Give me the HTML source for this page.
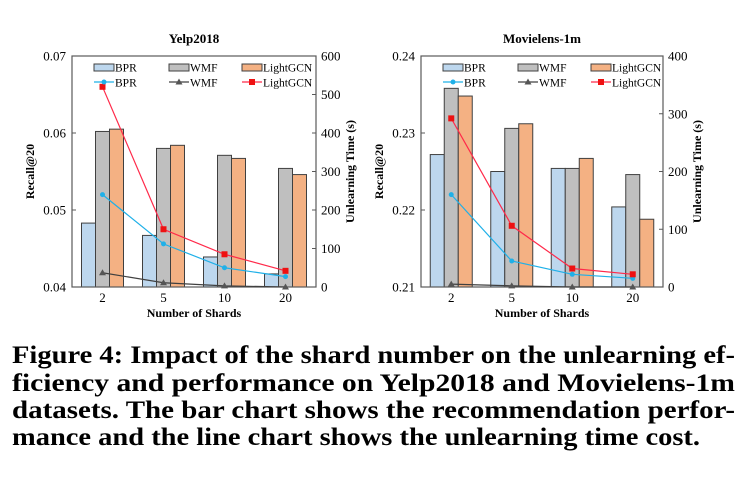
<!DOCTYPE html>
<html><head><meta charset="utf-8"><style>
body{margin:0;background:#fff;}
svg{display:block;font-family:"Liberation Serif",serif;}
</style></head><body>
<svg id="fig" width="752" height="485" viewBox="0 0 752 485" xmlns="http://www.w3.org/2000/svg">
<g id="c1"></g>
<g id="c2"></g>
<g font-weight="bold" font-size="25" fill="#000">
<text x="12" y="363" textLength="723" lengthAdjust="spacingAndGlyphs">Figure 4: Impact of the shard number on the unlearning ef-</text>
<text x="12" y="391" textLength="723" lengthAdjust="spacingAndGlyphs">ficiency and performance on Yelp2018 and Movielens-1m</text>
<text x="12" y="418" textLength="723" lengthAdjust="spacingAndGlyphs">datasets. The bar chart shows the recommendation perfor-</text>
<text x="12" y="445" textLength="688" lengthAdjust="spacingAndGlyphs">mance and the line chart shows the unlearning time cost.</text>
</g>
</svg>
<script>
const categories=["2","5","10","20"];
const yelpBPR=[0.0483,0.0467,0.0439,0.0417];
const yelpWMF=[0.0602,0.0580,0.0571,0.0554];
const yelpLGCN=[0.0605,0.0584,0.0567,0.0546];
const yelpTimeBPR=[240,112,50,27];
const yelpTimeWMF=[37,11,3,0];
const yelpTimeLGCN=[520,150,85,42];
const yelpLeftTicks=["0.04","0.05","0.06","0.07"];
const yelpRightTicks=["0","100","200","300","400","500","600"];
const mlBPR=[0.2272,0.2250,0.2254,0.2204];
const mlWMF=[0.2358,0.2306,0.2254,0.2246];
const mlLGCN=[0.2348,0.2312,0.2267,0.2188];
const mlTimeBPR=[160,45,22,15];
const mlTimeWMF=[5,2,0,0];
const mlTimeLGCN=[292,106,32,22];
const mlLeftTicks=["0.21","0.22","0.23","0.24"];
const mlRightTicks=["0","100","200","300","400"];
const NS="http://www.w3.org/2000/svg";
function mk(p,t,a){const e=document.createElementNS(NS,t);for(const k in a)e.setAttribute(k,a[k]);p.appendChild(e);return e;}
function draw(g,o){
  const L=o.x0,R=o.x1,T=56,B=287;
  const lmin=+o.lt[0],lmax=+o.lt[o.lt.length-1],rmax=+o.rt[o.rt.length-1];
  const yL=v=>B-(v-lmin)/(lmax-lmin)*(B-T);
  const yR=v=>B-v/rmax*(B-T);
  const band=(R-L)/categories.length;
  const xC=i=>L+band*(i+0.5);
  let t=mk(g,'text',{x:(L+R)/2,y:43,'text-anchor':'middle','font-weight':'bold','font-size':'13'});t.textContent=o.title;
  
  
  const bw=14;
  const ser=[[o.bpr,'#bdd7ee','bar-bpr'],[o.wmf,'#bfbfbf','bar-wmf'],[o.lgcn,'#f4b183','bar-lightgcn']];
  ser.forEach((s,si)=>{s[0].forEach((v,i)=>{
    const x=xC(i)-1.5*bw+si*bw;
    const r=mk(g,'rect',{x:x,y:yL(v),width:bw,height:B-yL(v),fill:s[1],stroke:'#404040','stroke-width':'1'});
    
    
  });});
  const ax=mk(g,'rect',{x:L,y:T,width:R-L,height:B-T,fill:'none',stroke:'#595959','stroke-width':'1.2'});
  
  
  o.lt.forEach(s=>{const y=yL(+s);mk(g,'line',{x1:L,x2:L+4,y1:y,y2:y,stroke:'#595959'});
    const e=mk(g,'text',{x:L-6,y:y+4.5,'text-anchor':'end','font-size':'13'});e.textContent=s;
    
    });
  o.rt.forEach(s=>{const y=yR(+s);mk(g,'line',{x1:R-4,x2:R,y1:y,y2:y,stroke:'#595959'});
    const e=mk(g,'text',{x:R+5,y:y+4.5,'font-size':'13'});e.textContent=s;
    
    });
  categories.forEach((c,i)=>{const e=mk(g,'text',{x:xC(i),y:302,'text-anchor':'middle','font-size':'13'});e.textContent=c;
    
    });
  let e=mk(g,'text',{x:(L+R)/2,y:317,'text-anchor':'middle','font-weight':'bold','font-size':'12'});e.textContent='Number of Shards';
  
  
  e=mk(g,'text',{transform:`translate(${L-38},${(T+B)/2}) rotate(-90)`,'text-anchor':'middle','font-weight':'bold','font-size':'12'});e.textContent='Recall@20';
  
  
  e=mk(g,'text',{transform:`translate(${R+o.rOff},${(T+B)/2}) rotate(-90)`,'text-anchor':'middle','font-weight':'bold','font-size':'12'});e.textContent='Unlearning Time (s)';
  
  
  const lines=[[o.tw,'#404040','tri','line-wmf'],[o.tb,'#1fb0e8','dot','line-bpr'],[o.tl,'#ff2a4a','sq','line-lightgcn']];
  lines.forEach(l=>{
    const pts=l[0].map((v,i)=>xC(i)+','+yR(v)).join(' ');
    const p=mk(g,'polyline',{points:pts,fill:'none',stroke:l[1],'stroke-width':'1.2'});
    
    
    l[0].forEach((v,i)=>marker(g,l[2],xC(i),yR(v)));
  });
  const lx=[L+22,L+97,L+170],names=['BPR','WMF','LightGCN'],fills=['#bdd7ee','#bfbfbf','#f4b183'];
  const lc=['#1fb0e8','#404040','#ff2a4a'],lm=['dot','tri','sq'];
  names.forEach((n,i)=>{
    const r=mk(g,'rect',{x:lx[i],y:64,width:20,height:7,fill:fills[i],stroke:'#404040'});
    
    
    let tx=mk(g,'text',{x:lx[i]+21,y:71.5,'font-size':'11.5'});tx.textContent=n;
    
    
    const ln=mk(g,'line',{x1:lx[i],x2:lx[i]+20,y1:82,y2:82,stroke:lc[i],'stroke-width':'1.2'});
    
    
    marker(g,lm[i],lx[i]+10,82);
    tx=mk(g,'text',{x:lx[i]+21,y:86.5,'font-size':'11.5'});tx.textContent=n;
    
    
  });
}
function marker(g,k,x,y){
  let m;
  if(k==='dot')m=mk(g,'circle',{cx:x,cy:y,r:2.5,fill:'#1fb0e8'});
  else if(k==='sq')m=mk(g,'rect',{x:x-3,y:y-3,width:6,height:6,fill:'#ee1111'});
  else m=mk(g,'polygon',{points:`${x},${y-3.5} ${x-3.5},${y+2.5} ${x+3.5},${y+2.5}`,fill:'#555'});
  
  
}
draw(document.getElementById('c1'),{x0:72,x1:316,title:'Yelp2018',lt:yelpLeftTicks,rt:yelpRightTicks,bpr:yelpBPR,wmf:yelpWMF,lgcn:yelpLGCN,tb:yelpTimeBPR,tw:yelpTimeWMF,tl:yelpTimeLGCN,rOff:38});
draw(document.getElementById('c2'),{x0:421,x1:663,title:'Movielens-1m',lt:mlLeftTicks,rt:mlRightTicks,bpr:mlBPR,wmf:mlWMF,lgcn:mlLGCN,tb:mlTimeBPR,tw:mlTimeWMF,tl:mlTimeLGCN,rOff:38});
</script>
</body></html>
